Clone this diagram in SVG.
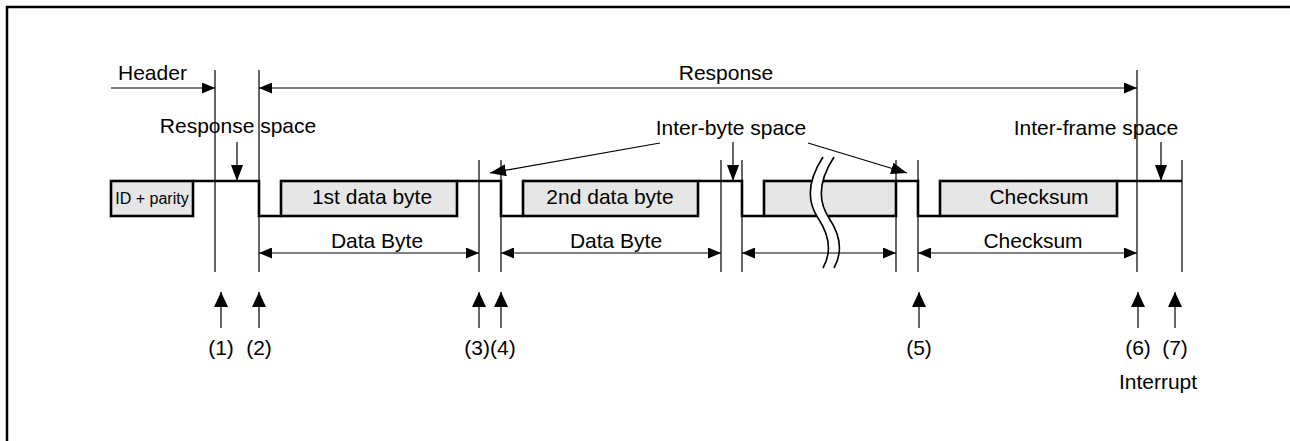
<svg xmlns="http://www.w3.org/2000/svg" width="1290" height="441" viewBox="0 0 1290 441">
<style>
text{font-family:"Liberation Sans",Arial,sans-serif;font-size:21px;fill:#000}
.c{text-anchor:middle}
.thin{stroke:#000;stroke-width:1.2;fill:none}
.wave{stroke:#000;stroke-width:2.6;fill:none;stroke-linejoin:miter}
.box{stroke:#000;stroke-width:2.6;fill:#e6e6e6}
.dim{stroke:#000;stroke-width:1.2;fill:none;marker-end:url(#ah);marker-start:url(#ahs)}
</style>
<defs>
<marker id="ah" markerUnits="userSpaceOnUse" markerWidth="13" markerHeight="11" refX="13" refY="5.5" orient="auto"><path d="M0,0 L13,5.5 L0,11 Z" fill="#000"/></marker>
<marker id="ahs" markerUnits="userSpaceOnUse" markerWidth="13" markerHeight="11" refX="13" refY="5.5" orient="auto-start-reverse"><path d="M0,0 L13,5.5 L0,11 Z" fill="#000"/></marker>
<marker id="av" markerUnits="userSpaceOnUse" markerWidth="16" markerHeight="12" refX="16" refY="6" orient="auto"><path d="M0,0 L16,6 L0,12 Z" fill="#000"/></marker>
<marker id="ab" markerUnits="userSpaceOnUse" markerWidth="15" markerHeight="14" refX="15" refY="7" orient="auto"><path d="M0,0 L15,7 L0,14 Z" fill="#000"/></marker>
</defs>
<rect x="7" y="7" width="1300" height="460" fill="#fff" stroke="#000" stroke-width="2.5"/>

<g id="guides">
<path class="thin" d="M215 70V272 M259 70V272 M1137 70V272 M479 160V272 M501 160V272 M721 160V272 M742 160V272 M896 160V272 M918 160V272 M1182 160V272"/>
</g>

<g id="waveform">
<path class="wave" d="M193 181H259V216H281 M457 181H501V216H523 M698 181H742V216H764 M896 181H918V216H940 M1117 181H1182"/>
</g>
<g id="id-parity"><rect class="box" x="111" y="181" width="82" height="35"/><text x="152" y="204" class="c" style="font-size:16px">ID + parity</text></g>
<g id="byte1"><rect class="box" x="281" y="181" width="176" height="35"/><text x="372" y="204" class="c">1st data byte</text></g>
<g id="byte2"><rect class="box" x="523" y="181" width="175" height="35"/><text x="610" y="204" class="c">2nd data byte</text></g>
<g id="byteN"><rect class="box" x="764" y="181" width="132" height="35"/></g>
<g id="checksum"><rect class="box" x="940" y="181" width="177" height="35"/><text x="1039" y="204" class="c">Checksum</text></g>

<g id="break">
<path d="M823 157C808 180 806 200 818 218C830 236 832 252 823 268L834 268C843 252 841 236 829 218C817 200 819 180 834 157Z" fill="#fff" stroke="none"/>
<path d="M823 157C808 180 806 200 818 218C830 236 832 252 823 268" stroke="#000" stroke-width="1.6" fill="none"/>
<path d="M834 157C819 180 817 200 829 218C841 236 843 252 834 268" stroke="#000" stroke-width="1.6" fill="none"/>
</g>

<g id="connectors">
<path class="thin" d="M111 88H215" marker-end="url(#ah)"/>
<path class="dim" d="M259 88H1137"/>
<path class="dim" d="M259 253H479"/>
<path class="dim" d="M501 253H721"/>
<path class="dim" d="M742 253H896"/>
<path class="dim" d="M918 253H1137"/>
<path class="thin" d="M237 142V181" marker-end="url(#av)"/>
<path class="thin" d="M733 142V181" marker-end="url(#av)"/>
<path class="thin" d="M1161 142V181" marker-end="url(#av)"/>
<path class="thin" d="M660 143L490 173" marker-end="url(#av)"/>
<path class="thin" d="M808 143L907 173" marker-end="url(#av)"/>
<path class="thin" d="M221 328V292" marker-end="url(#ab)"/>
<path class="thin" d="M259 328V292" marker-end="url(#ab)"/>
<path class="thin" d="M479 328V292" marker-end="url(#ab)"/>
<path class="thin" d="M501 328V292" marker-end="url(#ab)"/>
<path class="thin" d="M919 328V292" marker-end="url(#ab)"/>
<path class="thin" d="M1138 328V292" marker-end="url(#ab)"/>
<path class="thin" d="M1175 328V292" marker-end="url(#ab)"/>
</g>

<g id="labels">
<text x="118" y="80">Header</text>
<text x="726" y="80" class="c">Response</text>
<text x="238" y="133" class="c">Response space</text>
<text x="731" y="135" class="c">Inter-byte space</text>
<text x="1096" y="135" class="c">Inter-frame space</text>
<text x="377" y="248" class="c">Data Byte</text>
<text x="616" y="248" class="c">Data Byte</text>
<text x="1033" y="248" class="c">Checksum</text>
<text x="221" y="355" class="c">(1)</text>
<text x="259" y="355" class="c">(2)</text>
<text x="490" y="355" class="c">(3)(4)</text>
<text x="919" y="355" class="c">(5)</text>
<text x="1138" y="355" class="c">(6)</text>
<text x="1175" y="355" class="c">(7)</text>
<text x="1158" y="389" class="c">Interrupt</text>
</g>
</svg>
